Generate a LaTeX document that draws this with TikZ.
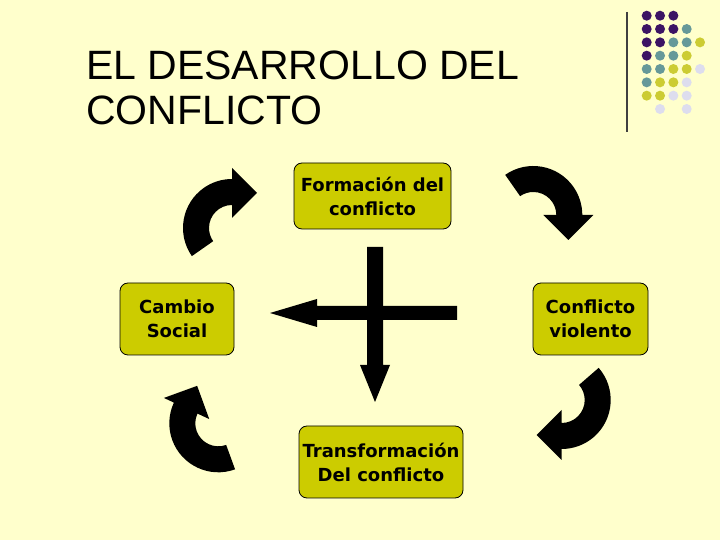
\documentclass[tikz,border=0pt]{standalone}
\usepackage{fontspec}
\setmainfont{Liberation Sans}
\newfontfamily\boxfont{DejaVu Sans}
\definecolor{bgyellow}{RGB}{255,255,204}
\definecolor{boxolive}{RGB}{204,204,0}
\definecolor{dpurple}{RGB}{60,20,100}
\definecolor{dteal}{RGB}{102,153,153}
\definecolor{dolive}{RGB}{204,204,51}
\definecolor{dlight}{RGB}{221,221,238}
\newcommand{\curvedarr}[3]{%
  \fill[black, shift={(#1)}, rotate=#2] (#3:49) arc[start angle=#3, end angle=0, radius=49]
    -- (60,0) -- (35,-25) -- (10,0) -- (23,0) arc[start angle=0, end angle=#3, radius=23] -- cycle;}
\begin{document}
\begin{tikzpicture}[x=1pt,y=1pt,
  box/.style={draw=black, line width=0.8pt, fill=boxolive, rounded corners=8pt, align=center,
    font=\boxfont\bfseries\fontsize{18}{24}\selectfont, inner sep=0pt},
  titletext/.style={anchor=base west, inner sep=0pt, font=\fontsize{41}{45}\selectfont},
  dot/.style={radius=5pt}]
\useasboundingbox (0,0) rectangle (720,540);
\fill[bgyellow] (0,0) rectangle (720,540);
% title
\node[titletext] (t1) at (86,460) {EL DESARROLLO DEL};
\node[titletext] (t2) at (86,415) {CONFLICTO};
% decoration
\draw[line width=1.2pt, black!75] (627,528) -- (627,408);
\foreach \c/\r/\col in {0/0/dpurple,1/0/dpurple,2/0/dpurple,
  0/1/dpurple,1/1/dpurple,2/1/dpurple,3/1/dteal,
  0/2/dpurple,1/2/dpurple,2/2/dteal,3/2/dteal,4/2/dolive,
  0/3/dpurple,1/3/dteal,2/3/dteal,3/3/dolive,
  0/4/dteal,1/4/dteal,2/4/dolive,3/4/dolive,4/4/dlight,
  0/5/dteal,1/5/dolive,2/5/dolive,3/5/dlight,
  0/6/dolive,1/6/dolive,2/6/dlight,3/6/dlight,
  1/7/dlight,3/7/dlight}
  \fill[\col] ({646.7+13.33*\c},{524.3-13.33*\r}) circle[dot];
% boxes
\node[box, minimum width=157pt, minimum height=66pt] (form) at (372.5,344) {Formación del\\conflicto};
\node[box, minimum width=114pt, minimum height=72pt] (camb) at (177,221) {Cambio\\Social};
\node[box, minimum width=115pt, minimum height=72pt] (conf) at (590.5,221) {Conflicto\\violento};
\node[box, minimum width=164pt, minimum height=72pt] (trans) at (381,78) {Transformación\\Del conflicto};
% cross arrows
\fill[black] (367,293) -- (383,293) -- (383,175) -- (390,175) -- (375,138) -- (360,175) -- (367,175) -- cycle;
\fill[black] (457,234) -- (317,234) -- (317,241) -- (270,227) -- (317,213) -- (317,220) -- (457,220) -- cycle;
% curved arrows
\curvedarr{232,312}{90}{125}
\curvedarr{533.3,325}{0}{125}
\curvedarr{218.3,116.7}{155}{135}
\curvedarr{561.7,140}{-90}{131}
\end{tikzpicture}
\end{document}
